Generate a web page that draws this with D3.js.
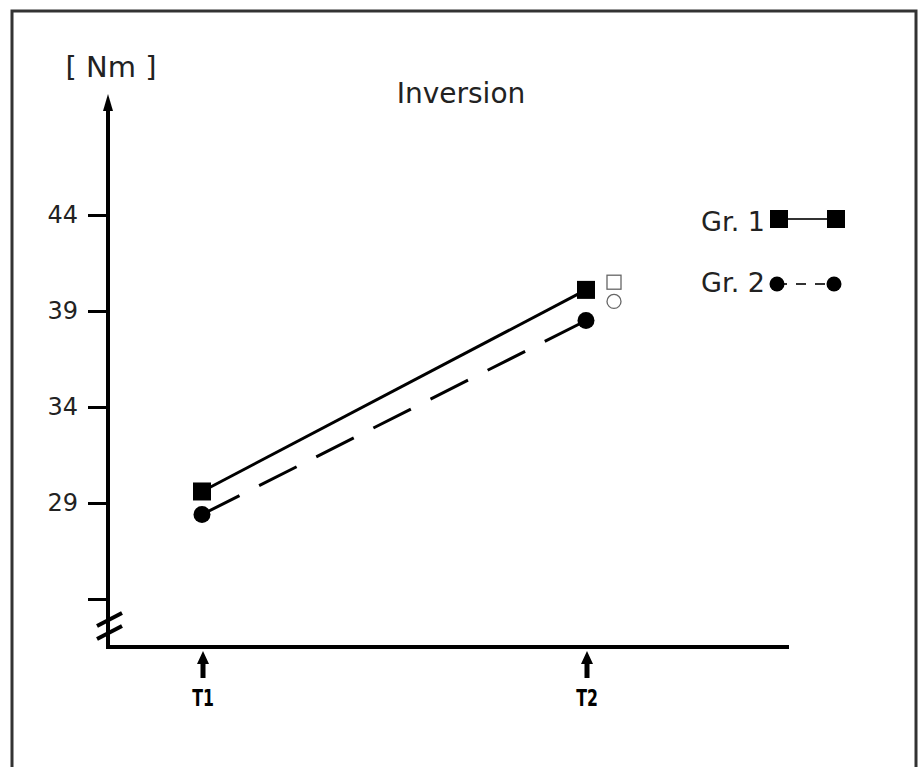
<!DOCTYPE html>
<html>
<head>
<meta charset="utf-8">
<script src="https://cdn.jsdelivr.net/npm/d3@7"></script>
<style>
  body { margin: 0; background: #fff; }
  svg { display: block; }
  .lbl { font-family: "DejaVu Sans", Verdana, sans-serif; fill: #222; }
  .tk { font-family: "DejaVu Sans", sans-serif; font-weight: bold; fill: #000; }
</style>
</head>
<body>
<script>
// chart values
const times = ["T1", "T2"];
const gr1 = [29.6, 40.1];
const gr2 = [28.4, 38.5];
// small open markers beside T2
const openSquare = [40.5];
const openCircle = [39.5];
const yTicks = [24, 29, 34, 39, 44];
const yTickLabels = ["", "29", "34", "39", "44"];

const W = 919, H = 767;

const svg = d3.select("body").append("svg")
    .attr("width", W)
    .attr("height", H);

// frame
svg.append("rect")
    .attr("x", 12).attr("y", 11)
    .attr("width", 904).attr("height", H + 10)
    .attr("fill", "none")
    .attr("stroke", "#333")
    .attr("stroke-width", 3);

const x = d3.scalePoint()
    .domain(times)
    .range([202, 586]);

const y = d3.scaleLinear()
    .domain([24, 44])
    .range([599, 215]);

const axisX0 = 108, axisY0 = 647;

// y axis ticks
const yAxis = d3.axisLeft(y)
    .tickValues(yTicks)
    .tickSize(20)
    .tickPadding(10)
    .tickFormat((d, i) => yTickLabels[i]);

const gy = svg.append("g")
    .attr("transform", "translate(" + axisX0 + ",0)")
    .call(yAxis);
gy.select(".domain").remove();
gy.selectAll(".tick line").attr("stroke", "#000").attr("stroke-width", 3);
gy.selectAll(".tick text")
    .attr("class", "lbl")
    .style("font-size", "24px");

// axis lines
svg.append("line")
    .attr("x1", axisX0).attr("x2", axisX0)
    .attr("y1", axisY0 + 2).attr("y2", 108)
    .attr("stroke", "#000").attr("stroke-width", 4);
svg.append("path")
    .attr("d", "M" + axisX0 + ",94 L" + (axisX0 - 5) + ",111 L" + (axisX0 + 5) + ",111 Z")
    .attr("fill", "#000");
svg.append("line")
    .attr("x1", axisX0 - 2).attr("x2", 789)
    .attr("y1", axisY0).attr("y2", axisY0)
    .attr("stroke", "#000").attr("stroke-width", 4);

// axis break marks
[0, 13].forEach(function(off){
    svg.append("line")
        .attr("x1", 97).attr("y1", 626 + off)
        .attr("x2", 122).attr("y2", 613 + off)
        .attr("stroke", "#000").attr("stroke-width", 4);
});

// time arrows and labels
const tg = svg.selectAll(".time")
    .data(times)
    .enter()
    .append("g")
    .attr("transform", d => "translate(" + (x(d) + 1) + ",0)");
tg.append("path")
    .attr("d", "M0,651 L-6,664 L-2.5,664 L-2.5,678 L2.5,678 L2.5,664 L6,664 Z")
    .attr("fill", "#000");
tg.append("text")
    .attr("class", "tk")
    .attr("transform", "translate(0,706) scale(0.75,1.1)")
    .attr("text-anchor", "middle")
    .style("font-size", "21px")
    .text(d => d);

// series lines
const line = d3.line()
    .x((d, i) => x(times[i]))
    .y(d => y(d));

svg.append("path")
    .datum(gr1)
    .attr("d", line)
    .attr("fill", "none")
    .attr("stroke", "#000")
    .attr("stroke-width", 3);

svg.append("path")
    .datum(gr2)
    .attr("d", line)
    .attr("fill", "none")
    .attr("stroke", "#000")
    .attr("stroke-width", 3)
    .attr("stroke-dasharray", "42,22");

// markers
svg.selectAll(".sq1")
    .data(gr1)
    .enter()
    .append("rect")
    .attr("x", (d, i) => x(times[i]) - 9)
    .attr("y", d => y(d) - 9)
    .attr("width", 18).attr("height", 18)
    .attr("fill", "#000");

svg.selectAll(".c2")
    .data(gr2)
    .enter()
    .append("circle")
    .attr("cx", (d, i) => x(times[i]))
    .attr("cy", d => y(d))
    .attr("r", 8.5)
    .attr("fill", "#000");

svg.selectAll(".osq")
    .data(openSquare)
    .enter()
    .append("rect")
    .attr("x", x("T2") + 28 - 7)
    .attr("y", d => y(d) - 7)
    .attr("width", 14).attr("height", 14)
    .attr("fill", "none")
    .attr("stroke", "#666")
    .attr("stroke-width", 1.3);

svg.selectAll(".oc")
    .data(openCircle)
    .enter()
    .append("circle")
    .attr("cx", x("T2") + 28)
    .attr("cy", d => y(d))
    .attr("r", 7)
    .attr("fill", "none")
    .attr("stroke", "#666")
    .attr("stroke-width", 1.3);

// titles
svg.append("text")
    .attr("class", "lbl")
    .attr("x", 461).attr("y", 103)
    .attr("text-anchor", "middle")
    .style("font-size", "28px")
    .text("Inversion");

svg.append("text")
    .attr("class", "lbl")
    .attr("x", 111).attr("y", 77)
    .attr("text-anchor", "middle")
    .style("font-size", "29px")
    .text("[ Nm ]");

// legend
const legend = svg.append("g");
legend.append("text")
    .attr("class", "lbl")
    .attr("x", 765).attr("y", 231)
    .attr("text-anchor", "end")
    .style("font-size", "27px")
    .text("Gr. 1");
legend.append("line")
    .attr("x1", 779).attr("x2", 836)
    .attr("y1", 219).attr("y2", 219)
    .attr("stroke", "#333").attr("stroke-width", 2);
[779, 836].forEach(function(cx){
    legend.append("rect")
        .attr("x", cx - 9).attr("y", 210)
        .attr("width", 18).attr("height", 18)
        .attr("fill", "#000");
});

legend.append("text")
    .attr("class", "lbl")
    .attr("x", 765).attr("y", 292)
    .attr("text-anchor", "end")
    .style("font-size", "27px")
    .text("Gr. 2");
legend.append("line")
    .attr("x1", 777).attr("x2", 834)
    .attr("y1", 284).attr("y2", 284)
    .attr("stroke", "#333").attr("stroke-width", 2)
    .attr("stroke-dasharray", "10,9");
[777, 834].forEach(function(cx){
    legend.append("circle")
        .attr("cx", cx).attr("cy", 284)
        .attr("r", 7.5)
        .attr("fill", "#000");
});
</script>
</body>
</html>
